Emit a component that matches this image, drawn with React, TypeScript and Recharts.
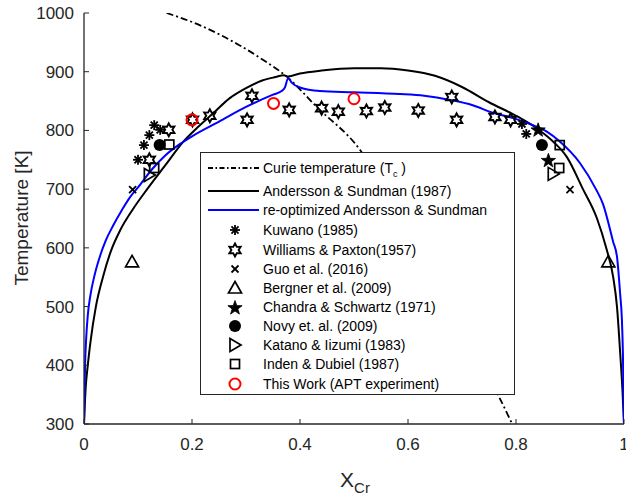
import React from 'react'
import { ComposedChart, Line, Scatter, XAxis, YAxis, Legend } from 'recharts'

type Pt = { x: number; y: number }
const toPts = (a: number[][]): Pt[] => a.map(([x, y]) => ({ x, y }))

const FONT = '"Liberation Sans", Arial, Helvetica, sans-serif'
const AX = '#262626'

const xTicks = [0, 0.2, 0.4, 0.6, 0.8, 1]
const yTicks = [300, 400, 500, 600, 700, 800, 900, 1000]

// Curie temperature (dash-dot)
const curie = toPts([
  [0.153, 1000], [0.215, 979], [0.286, 946], [0.332, 920], [0.375, 892],
  [0.431, 840], [0.511, 767], [0.56, 695], [0.62, 598], [0.68, 497],
  [0.74, 395], [0.767, 349], [0.793, 300],
])

// Andersson & Sundman (1987)
const andersson = toPts([
  [0, 300], [0.003, 360], [0.007, 400], [0.012, 440], [0.022, 500], [0.035, 550],
  [0.05, 595], [0.067, 630], [0.09, 665], [0.117, 700], [0.15, 740], [0.184, 781],
  [0.21, 805], [0.24, 830], [0.27, 855], [0.3, 872], [0.33, 885], [0.355, 891],
  [0.37, 894], [0.378, 892], [0.4, 897], [0.44, 902], [0.5, 906], [0.55, 906],
  [0.6, 902], [0.65, 893], [0.7, 874], [0.75, 848], [0.8, 825], [0.844, 800],
  [0.87, 780], [0.894, 755], [0.924, 700], [0.95, 650], [0.967, 600], [0.98, 550],
  [0.987, 500], [0.993, 420], [0.997, 360], [1, 300],
])

// re-optimized Andersson & Sundman
const reopt = toPts([
  [0, 300], [0.001, 350], [0.002, 400], [0.004, 445], [0.007, 485], [0.012, 520],
  [0.02, 555], [0.03, 587], [0.04, 612], [0.054, 638], [0.07, 664], [0.085, 686],
  [0.1, 703], [0.128, 736], [0.15, 757], [0.178, 777], [0.2, 790], [0.25, 815],
  [0.3, 840], [0.35, 861], [0.366, 867], [0.372, 873], [0.378, 889], [0.385, 881],
  [0.4, 873], [0.437, 867], [0.5, 865], [0.585, 862], [0.63, 859], [0.678, 852],
  [0.72, 843], [0.757, 830], [0.795, 821], [0.831, 809], [0.857, 798], [0.88, 782],
  [0.918, 745], [0.948, 700], [0.961, 675], [0.98, 610], [0.987, 585], [0.993, 520],
  [0.996, 480], [0.998, 420], [1, 300],
])

const kuwano = toPts([[0.1, 750], [0.111, 775], [0.121, 792], [0.13, 809], [0.141, 801], [0.811, 811], [0.819, 794]])
const williams = toPts([
  [0.121, 750], [0.157, 801], [0.201, 818], [0.233, 825], [0.302, 818], [0.311, 859],
  [0.38, 835], [0.44, 838], [0.471, 832], [0.523, 833], [0.557, 839], [0.619, 834],
  [0.681, 857], [0.69, 818], [0.761, 823], [0.79, 818],
])
const guo = toPts([[0.09, 699], [0.9, 699]])
const bergner = toPts([[0.089, 576], [0.971, 576]])
const chandra = toPts([[0.841, 802], [0.86, 750]])
const novy = toPts([[0.14, 775], [0.848, 775]])
const katano = toPts([[0.121, 724], [0.869, 726]])
const inden = toPts([[0.158, 776], [0.13, 736], [0.881, 775], [0.88, 736]])
const thisWork = toPts([[0.2, 818], [0.351, 846], [0.5, 854]])

const starPoints = (n: number, R: number, r: number, x: number, y: number) => {
  const pts: string[] = []
  for (let i = 0; i < n * 2; i++) {
    const a = (-90 + (i * 180) / n) * (Math.PI / 180)
    const rr = i % 2 === 0 ? R : r
    pts.push(`${x + rr * Math.cos(a)},${y + rr * Math.sin(a)}`)
  }
  return pts.join(' ')
}

function MarkerIcon({ kind, x, y }: { kind: string; x: number; y: number }) {
  switch (kind) {
    case 'asterisk': {
      const r = 5
      const d = r * 0.707
      return (
        <g stroke="#000" strokeWidth={1.8}>
          <line x1={x} y1={y - r} x2={x} y2={y + r} />
          <line x1={x - r} y1={y} x2={x + r} y2={y} />
          <line x1={x - d} y1={y - d} x2={x + d} y2={y + d} />
          <line x1={x - d} y1={y + d} x2={x + d} y2={y - d} />
        </g>
      )
    }
    case 'hexagram':
      return <polygon points={starPoints(6, 6.5, 3.6, x, y)} fill="none" stroke="#000" strokeWidth={1.9} />
    case 'x':
      return (
        <g stroke="#000" strokeWidth={1.8}>
          <line x1={x - 3.5} y1={y - 3.5} x2={x + 3.5} y2={y + 3.5} />
          <line x1={x - 3.5} y1={y + 3.5} x2={x + 3.5} y2={y - 3.5} />
        </g>
      )
    case 'triUp':
      return <polygon points={`${x},${y - 6.5} ${x + 6.5},${y + 5} ${x - 6.5},${y + 5}`} fill="none" stroke="#000" strokeWidth={1.7} />
    case 'pentagram':
      return <polygon points={starPoints(5, 7.5, 3, x, y + 1)} fill="#000" stroke="#000" strokeWidth={0.8} />
    case 'dot':
      return <circle cx={x} cy={y} r={6} fill="#000" />
    case 'triRight':
      return <polygon points={`${x + 6},${y} ${x - 5},${y - 6.5} ${x - 5},${y + 6.5}`} fill="none" stroke="#000" strokeWidth={1.7} />
    case 'square':
      return <rect x={x - 4.5} y={y - 4.5} width={9} height={9} fill="none" stroke="#000" strokeWidth={1.7} />
    case 'redCircle':
      return <circle cx={x} cy={y} r={5.5} fill="none" stroke="#ff0000" strokeWidth={2} />
    default:
      return <g />
  }
}

const shapeOf = (kind: string) => (p: any) => {
  if (p == null || p.cx == null || p.cy == null) return <g />
  return <MarkerIcon kind={kind} x={p.cx} y={p.cy} />
}

const legendRows = [
  { label: 'curie', type: 'dash', top: 15 },
  { label: 'Andersson & Sundman (1987)', type: 'black', top: 38 },
  { label: 're-optimized Andersson & Sundman', type: 'blue', top: 57 },
  { label: 'Kuwano (1985)', type: 'asterisk', top: 77 },
  { label: 'Williams & Paxton(1957)', type: 'hexagram', top: 97 },
  { label: 'Guo et al. (2016)', type: 'x', top: 116 },
  { label: 'Bergner et al. (2009)', type: 'triUp', top: 135 },
  { label: 'Chandra & Schwartz (1971)', type: 'pentagram', top: 154 },
  { label: 'Novy et. al. (2009)', type: 'dot', top: 173 },
  { label: 'Katano & Iizumi (1983)', type: 'triRight', top: 192 },
  { label: 'Inden & Dubiel (1987)', type: 'square', top: 211 },
  { label: 'This Work (APT experiment)', type: 'redCircle', top: 231 },
]

const renderLegend = () => (
  <div
    style={{
      position: 'relative',
      width: 315,
      height: 243,
      boxSizing: 'border-box',
      border: `1.3px solid ${AX}`,
      background: '#fff',
      fontFamily: FONT,
      fontSize: 14,
      color: '#000',
    }}
  >
    {legendRows.map((r) => (
      <div key={r.type} style={{ position: 'absolute', left: 0, top: r.top - 10, height: 20, width: 313 }}>
        <svg width={62} height={20} style={{ position: 'absolute', left: 0, top: 0 }}>
          {r.type === 'dash' && <line x1={7} y1={10} x2={58} y2={10} stroke="#000" strokeWidth={1.8} strokeDasharray="5 2.5 1.5 2.5" />}
          {r.type === 'black' && <line x1={7} y1={10} x2={58} y2={10} stroke="#000" strokeWidth={2} />}
          {r.type === 'blue' && <line x1={7} y1={10} x2={58} y2={10} stroke="#0000ff" strokeWidth={2} />}
          {!['dash', 'black', 'blue'].includes(r.type) && <MarkerIcon kind={r.type} x={34} y={10} />}
        </svg>
        <span style={{ position: 'absolute', left: 62, top: 1, whiteSpace: 'nowrap', lineHeight: '18px' }}>
          {r.type === 'dash' ? (
            <>
              Curie temperature (T<sub style={{ fontSize: 9, verticalAlign: 'sub' }}>c</sub> )
            </>
          ) : (
            r.label
          )}
        </span>
      </div>
    ))}
  </div>
)

const renderXLabel = () => (
  <text x={355} y={487} textAnchor="middle" fontFamily={FONT} fill={AX} fontSize={21}>
    X<tspan dy={6} fontSize={15}>Cr</tspan>
  </text>
)

const renderYLabel = () => (
  <text x={28} y={218} textAnchor="middle" fontFamily={FONT} fill={AX} fontSize={19} transform="rotate(-90, 28, 218)">
    Temperature [K]
  </text>
)

const tickStyle = { fill: AX, fontSize: 17, fontFamily: FONT }
const blank = () => ''

export default function App() {
  return (
    <div style={{ position: 'absolute', left: 0, top: 0, width: 626, height: 497, background: '#fff' }}>
      <ComposedChart width={626} height={497} margin={{ top: 13, right: 2, bottom: 0, left: 0 }}>
        <XAxis
          xAxisId="b"
          type="number"
          dataKey="x"
          orientation="bottom"
          domain={[0, 1]}
          ticks={xTicks}
          interval={0}
          allowDataOverflow
          height={73}
          tickSize={-5}
          tickMargin={19}
          stroke={AX}
          axisLine={{ stroke: AX, strokeWidth: 1.3 }}
          tick={tickStyle}
          label={renderXLabel}
        />
        <XAxis
          xAxisId="t"
          type="number"
          dataKey="x"
          orientation="top"
          domain={[0, 1]}
          ticks={xTicks}
          interval={0}
          allowDataOverflow
          height={0}
          tickSize={-5}
          stroke={AX}
          axisLine={{ stroke: AX, strokeWidth: 1.3 }}
          tickFormatter={blank}
        />
        <YAxis
          yAxisId="l"
          type="number"
          dataKey="y"
          orientation="left"
          domain={[300, 1000]}
          ticks={yTicks}
          interval={0}
          allowDataOverflow
          width={84}
          tickSize={-5}
          tickMargin={15}
          stroke={AX}
          axisLine={{ stroke: AX, strokeWidth: 1.3 }}
          tick={tickStyle}
          label={renderYLabel}
        />
        <YAxis
          yAxisId="r"
          type="number"
          dataKey="y"
          orientation="right"
          domain={[300, 1000]}
          ticks={yTicks}
          interval={0}
          allowDataOverflow
          width={0}
          tickSize={-5}
          stroke={AX}
          axisLine={{ stroke: AX, strokeWidth: 1.3 }}
          tickFormatter={blank}
        />
        <Line xAxisId="b" yAxisId="l" data={curie} dataKey="y" type="monotone" stroke="#000" strokeWidth={1.8}
          strokeDasharray="7 3 2 3" dot={false} activeDot={false} isAnimationActive={false} />
        <Line xAxisId="b" yAxisId="l" data={andersson} dataKey="y" type="monotone" stroke="#000" strokeWidth={2}
          dot={false} activeDot={false} isAnimationActive={false} />
        <Line xAxisId="b" yAxisId="l" data={reopt} dataKey="y" type="monotone" stroke="#0000ff" strokeWidth={2}
          dot={false} activeDot={false} isAnimationActive={false} />
        <Scatter xAxisId="b" yAxisId="l" data={kuwano} dataKey="y" shape={shapeOf('asterisk')} isAnimationActive={false} />
        <Scatter xAxisId="b" yAxisId="l" data={williams} dataKey="y" shape={shapeOf('hexagram')} isAnimationActive={false} />
        <Scatter xAxisId="b" yAxisId="l" data={guo} dataKey="y" shape={shapeOf('x')} isAnimationActive={false} />
        <Scatter xAxisId="b" yAxisId="l" data={bergner} dataKey="y" shape={shapeOf('triUp')} isAnimationActive={false} />
        <Scatter xAxisId="b" yAxisId="l" data={chandra} dataKey="y" shape={shapeOf('pentagram')} isAnimationActive={false} />
        <Scatter xAxisId="b" yAxisId="l" data={novy} dataKey="y" shape={shapeOf('dot')} isAnimationActive={false} />
        <Scatter xAxisId="b" yAxisId="l" data={katano} dataKey="y" shape={shapeOf('triRight')} isAnimationActive={false} />
        <Scatter xAxisId="b" yAxisId="l" data={inden} dataKey="y" shape={shapeOf('square')} isAnimationActive={false} />
        <Scatter xAxisId="b" yAxisId="l" data={thisWork} dataKey="y" shape={shapeOf('redCircle')} isAnimationActive={false} />
        <Legend
          content={renderLegend}
          layout="vertical"
          align="center"
          verticalAlign="middle"
          wrapperStyle={{ left: 200, top: 152, width: 315, height: 243 }}
        />
      </ComposedChart>
    </div>
  )
}
